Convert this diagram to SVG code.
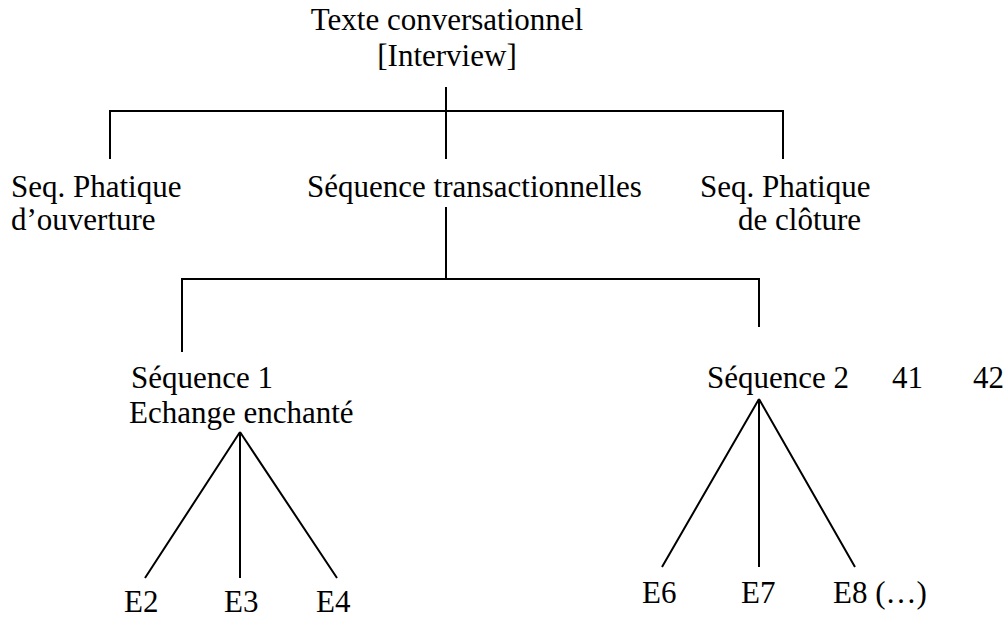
<svg xmlns="http://www.w3.org/2000/svg" width="1007" height="619" viewBox="0 0 1007 619">
<style>
text{font-family:"Liberation Serif","Times New Roman",serif;font-size:31px;fill:#000}
.c{stroke:#000;stroke-width:2;fill:none}
</style>
<rect width="1007" height="619" fill="#fff"/>
<g id="connectors" class="c">
<path d="M446 87V159M110 159V111H783V159"/>
<path d="M446 207V279M182 352V279H759V327"/>
<path d="M240 432L145 578M240 432V578M240 432L337 578"/>
<path d="M759 399L662 567M759 399V567M759 399L855 567"/>
</g>
<g id="root"><text x="447" y="30" text-anchor="middle">Texte conversationnel</text><text x="447" y="66" text-anchor="middle">[Interview]</text></g>
<g id="ouverture"><text x="11" y="197">Seq. Phatique</text><text x="11" y="230">d’ouverture</text></g>
<g id="transact"><text x="307" y="197">Séquence transactionnelles</text></g>
<g id="cloture"><text x="700" y="197">Seq. Phatique</text><text x="738" y="230">de clôture</text></g>
<g id="seq1"><text x="131" y="388">Séquence 1</text><text x="129" y="423">Echange enchanté</text></g>
<g id="seq2"><text x="707" y="388">Séquence 2</text><text x="892" y="388">41</text><text x="973" y="388">42</text></g>
<g id="e2"><text x="124" y="612">E2</text></g>
<g id="e3"><text x="224" y="612">E3</text></g>
<g id="e4"><text x="316" y="612">E4</text></g>
<g id="e6"><text x="642" y="603">E6</text></g>
<g id="e7"><text x="741" y="603">E7</text></g>
<g id="e8"><text x="833" y="603">E8 (…)</text></g>
</svg>
